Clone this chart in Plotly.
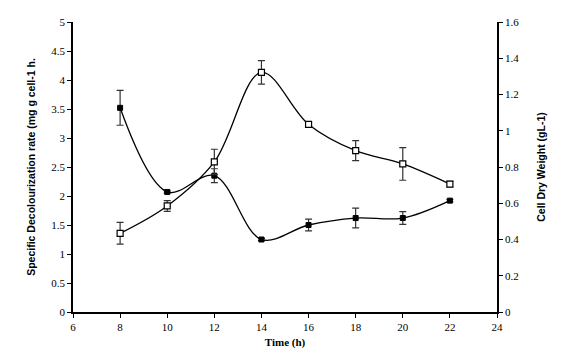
import plotly.graph_objects as go

time_h = [8, 10, 12, 14, 16, 18, 20, 22]
decol_rate = [3.52, 2.07, 2.35, 1.25, 1.50, 1.62, 1.62, 1.92]
decol_err = [0.30, 0.02, 0.12, 0.02, 0.10, 0.17, 0.11, 0.02]
cell_dw = [0.434, 0.585, 0.828, 1.322, 1.035, 0.89, 0.817, 0.706]
cell_dw_err = [0.06, 0.03, 0.07, 0.065, 0.01, 0.055, 0.09, 0.015]

x_ticks = list(range(6, 25, 2))
left_ticks = [0, 0.5, 1, 1.5, 2, 2.5, 3, 3.5, 4, 4.5, 5]
right_ticks = [0, 0.2, 0.4, 0.6, 0.8, 1, 1.2, 1.4, 1.6]

SERIF = "Liberation Serif"
SANS = "Liberation Sans"

fig = go.Figure()
fig.add_trace(go.Scatter(
    x=time_h, y=decol_rate, mode="lines+markers",
    line=dict(color="black", width=1.3, shape="spline", smoothing=1.0),
    marker=dict(symbol="square", size=5, color="black", line=dict(color="black", width=1)),
    error_y=dict(type="data", array=decol_err, color="#333333", thickness=1.2, width=3.5),
    showlegend=False,
))
fig.add_trace(go.Scatter(
    x=time_h, y=cell_dw, mode="lines+markers", yaxis="y2",
    line=dict(color="black", width=1.3, shape="spline", smoothing=1.0),
    marker=dict(symbol="square", size=6, color="white", line=dict(color="black", width=1.2)),
    error_y=dict(type="data", array=cell_dw_err, color="#333333", thickness=1.2, width=3.5),
    showlegend=False,
))

tickfont = dict(family=SERIF, size=11, color="black")
fig.update_layout(
    width=555, height=351,
    margin=dict(l=65, r=66, t=14, b=47),
    paper_bgcolor="white", plot_bgcolor="white",
    font=dict(family=SERIF, color="black"),
    xaxis=dict(
        range=[6, 24], tickvals=x_ticks, ticktext=[str(v) for v in x_ticks], automargin=False,
        showgrid=False, zeroline=False, showline=True, linecolor="black", linewidth=1.5,
        ticks="outside", ticklen=4, tickcolor="black", tickwidth=1.2, tickfont=tickfont,
        title=dict(text="<b>Time (h)</b>", font=dict(family=SERIF, size=11, color="black"), standoff=6),
    ),
    yaxis=dict(
        range=[0, 5], tickvals=left_ticks, ticktext=[("%g" % v) for v in left_ticks], automargin=False,
        showgrid=False, zeroline=False, showline=True, linecolor="black", linewidth=1.5,
        ticks="outside", ticklen=4, tickcolor="black", tickwidth=1.2, tickfont=tickfont,
        title=dict(text="<b>Specific Decolourization rate (mg g cell-1 h.</b>", font=dict(family=SANS, size=10.5, color="black"), standoff=14),
    ),
    yaxis2=dict(
        range=[0, 1.6], tickvals=right_ticks, ticktext=[("%g" % v) for v in right_ticks], automargin=False,
        overlaying="y", side="right",
        showgrid=False, zeroline=False, showline=True, linecolor="black", linewidth=1.5,
        ticks="outside", ticklen=4, tickcolor="black", tickwidth=1.2, tickfont=tickfont,
        title=dict(text="<b>Cell Dry Weight (gL-1)</b>", font=dict(family=SANS, size=10.5, color="black"), standoff=19),
    ),
)

fig.write_html("out.html")
